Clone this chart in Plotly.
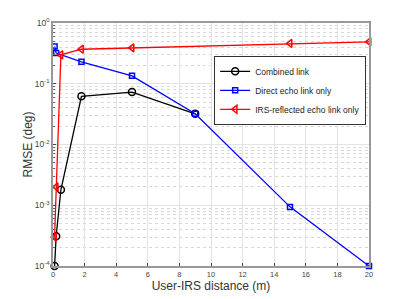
import plotly.graph_objects as go

comb_x = [0.1, 0.2, 0.5, 1.8, 5, 9]
comb_y = [1e-4, 3.1e-4, 1.8e-3, 0.062, 0.073, 0.032]

direct_x = [0.1, 0.2, 1.8, 5, 9, 15, 20]
direct_y = [0.41, 0.32, 0.23, 0.135, 0.032, 9.4e-4, 1e-4]

irs_x = [0.1, 0.2, 0.5, 1.8, 5, 15, 20]
irs_y = [3e-4, 2e-3, 0.30, 0.37, 0.39, 0.46, 0.49]

ytick_vals = [1e-4, 1e-3, 1e-2, 1e-1, 1]
ytick_text = ["10<sup>-4</sup>", "10<sup>-3</sup>", "10<sup>-2</sup>", "10<sup>-1</sup>", "10<sup>0</sup>"]
xtick_vals = list(range(0, 21, 2))

fig = go.Figure()
fig.add_trace(go.Scatter(x=comb_x, y=comb_y, mode="lines+markers", name="Combined link",
                         line=dict(color="black", width=1.3),
                         marker=dict(symbol="circle-open", size=7, color="black", line=dict(width=1.5)),
                         cliponaxis=False))
fig.add_trace(go.Scatter(x=direct_x, y=direct_y, mode="lines+markers", name="Direct echo link only",
                         line=dict(color="#0000ff", width=1.3),
                         marker=dict(symbol="square-open", size=5, color="#0000ff", line=dict(width=1.5)),
                         cliponaxis=False))
fig.add_trace(go.Scatter(x=irs_x, y=irs_y, mode="lines+markers", name="IRS-reflected echo link only",
                         line=dict(color="#ff0000", width=1.3),
                         marker=dict(symbol="triangle-left-open", size=7, color="#ff0000", line=dict(width=1.5)),
                         cliponaxis=False))

fig.update_layout(
    width=401, height=291,
    margin=dict(l=45, r=40, t=15, b=33),
    paper_bgcolor="white", plot_bgcolor="white",
    font=dict(family="Liberation Sans, Arial, sans-serif", color="#333333"),
    legend=dict(x=0.51, y=0.865, xanchor="left", yanchor="top",
                bgcolor="white", bordercolor="#333333", borderwidth=1,
                font=dict(size=8.5, color="#222222"), tracegroupgap=0,
                itemwidth=30),
    showlegend=True,
)
fig.update_xaxes(range=[0, 20], tickvals=xtick_vals, ticks="inside", ticklen=3,
                 tickcolor="#444444", tickfont=dict(size=7.5, color="#444444"),
                 showline=True, linecolor="#999999", linewidth=1.5, mirror=True,
                 showgrid=True, gridcolor="#e3e3e3", gridwidth=1, zeroline=False,
                 automargin=False,
                 title=dict(text="User-IRS distance (m)", font=dict(size=12, color="#333333"), standoff=3))
fig.update_yaxes(type="log", range=[-4, 0], tickvals=ytick_vals, ticktext=ytick_text,
                 ticks="inside", ticklen=3, tickcolor="#444444",
                 tickfont=dict(size=8.5, color="#444444"),
                 showline=True, linecolor="#999999", linewidth=1.5, mirror=True,
                 showgrid=True, gridcolor="#e3e3e3", gridwidth=1, zeroline=False,
                 automargin=False,
                 minor=dict(dtick="D1", showgrid=True, gridcolor="#d8d8d8", griddash="dot",
                            ticks="inside", ticklen=2, tickcolor="#666666"),
                 title=dict(text="RMSE (deg)", font=dict(size=12, color="#333333"), standoff=0))

fig.write_html("out.html")
